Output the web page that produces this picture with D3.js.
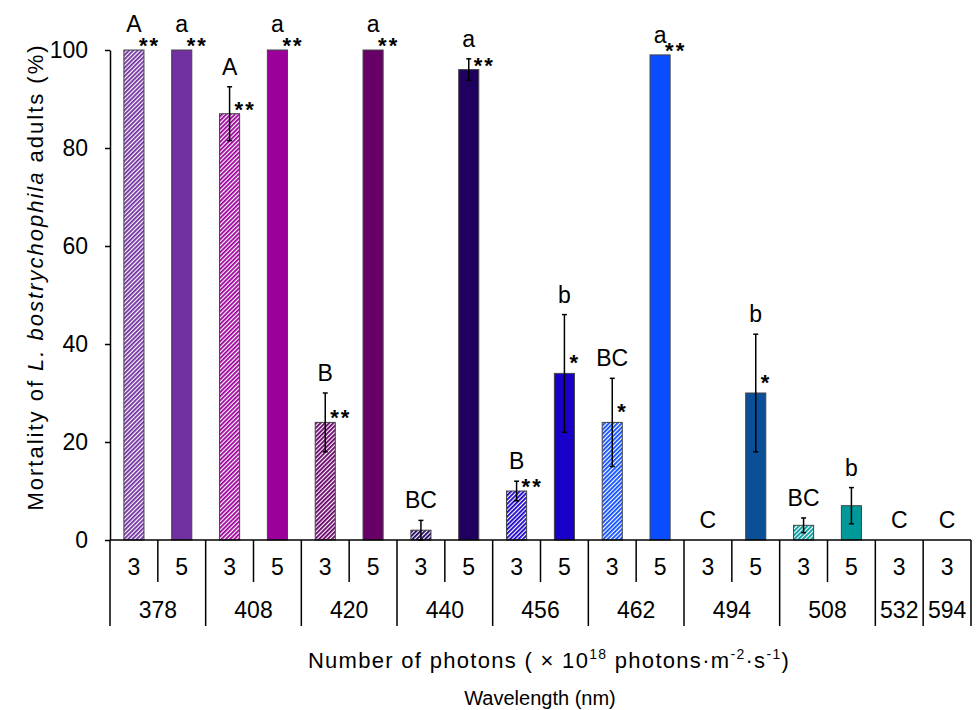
<!DOCTYPE html>
<html>
<head>
<meta charset="utf-8">
<script src="https://cdn.jsdelivr.net/npm/d3@7"></script>
<style>
  body { margin: 0; background: #fff; }
  svg { display: block; font-family: "Liberation Sans", Arial, sans-serif; }
</style>
</head>
<body>
<svg id="chart" width="977" height="710"></svg>
<script>
(function () {
    'use strict';

    // one entry per bar slot, left to right
    const wavelength = ["378", "378", "408", "408", "420", "420", "440", "440", "456", "456",
                        "462", "462", "494", "494", "508", "508", "532", "594"];
    const photons = ["3", "5", "3", "5", "3", "5", "3", "5", "3", "5",
                     "3", "5", "3", "5", "3", "5", "3", "3"];
    const mortality = [100, 100, 87, 100, 24, 100, 2, 96, 10, 34, 24, 99, 0, 30, 3, 7, 0, 0];
    const errors = [0, 0, 5.5, 0, 6, 0, 2, 2.2, 2, 12, 9, 0, 0, 12, 1.5, 3.7, 0, 0];
    const letters = ["A", "a", "A", "a", "B", "a", "BC", "a", "B", "b",
                     "BC", "a", "C", "b", "BC", "b", "C", "C"];
    const stars = ["**", "**", "**", "**", "**", "**", "", "**", "**", "*",
                   "*", "**", "", "*", "", "", "", ""];
    const yTicks = [0, 20, 40, 60, 80, 100];

    const colors = {
        "378": "#7030a0", "408": "#9c009a", "420": "#660066", "440": "#1f0060",
        "456": "#1800c8", "462": "#0a4cff", "494": "#0b4f96", "508": "#009999",
        "532": "#33aa33", "594": "#ff9900"
    };

    const left = 110, right = 971, top = 50, bottom = 540;

    const svg = d3.select("#chart");
    const rows = d3.range(wavelength.length);

    const x = d3.scaleBand()
        .domain(rows)
        .range([left, right])
        .padding(0);
    const barW = x.bandwidth() * 0.42;

    const y = d3.scaleLinear()
        .domain([0, 100])
        .range([bottom, top]);

    // hatch patterns, one per wavelength
    const defs = svg.append("defs");
    Object.keys(colors).forEach(k => {
        const p = defs.append("pattern")
            .attr("id", "hatch" + k)
            .attr("patternUnits", "userSpaceOnUse")
            .attr("width", 3)
            .attr("height", 3)
            .attr("patternTransform", "rotate(45)");
        p.append("rect").attr("width", 3).attr("height", 3).attr("fill", "#fff");
        p.append("rect").attr("width", 1.8).attr("height", 3).attr("fill", colors[k]);
    });

    // bars
    svg.append("g")
        .selectAll("rect")
        .data(rows.filter(i => mortality[i] > 0))
        .join("rect")
        .attr("x", i => x(i) + (x.bandwidth() - barW) / 2)
        .attr("y", i => y(mortality[i]))
        .attr("width", barW)
        .attr("height", i => y(0) - y(mortality[i]))
        .attr("fill", i => photons[i] === "3" ? `url(#hatch${wavelength[i]})` : colors[wavelength[i]])
        .attr("stroke", "#444")
        .attr("stroke-width", 1);

    // error bars
    const eb = svg.append("g")
        .attr("stroke", "#000")
        .attr("stroke-width", 1.5)
        .selectAll("g")
        .data(rows.filter(i => errors[i] > 0))
        .join("g")
        .attr("transform", i => `translate(${x(i) + x.bandwidth() / 2},0)`);
    eb.append("line")
        .attr("y1", i => y(mortality[i] - errors[i]))
        .attr("y2", i => y(mortality[i] + errors[i]));
    eb.append("line")
        .attr("x1", -2.5).attr("x2", 2.5)
        .attr("y1", i => y(mortality[i] + errors[i]))
        .attr("y2", i => y(mortality[i] + errors[i]));
    eb.append("line")
        .attr("x1", -2.5).attr("x2", 2.5)
        .attr("y1", i => y(mortality[i] - errors[i]))
        .attr("y2", i => y(mortality[i] - errors[i]));

    // significance letters
    svg.append("g")
        .attr("text-anchor", "middle")
        .style("font-size", "23px")
        .selectAll("text")
        .data(rows)
        .join("text")
        .attr("x", i => x(i) + x.bandwidth() / 2)
        .attr("y", i => y(mortality[i] + errors[i]) - (mortality[i] >= 100 ? 18 : 12))
        .text(i => letters[i]);

    // asterisks (single ones sit a little higher)
    svg.append("g")
        .style("font-size", "22px")
        .style("font-weight", "bold")
        .style("letter-spacing", "2px")
        .selectAll("text")
        .data(rows.filter(i => stars[i]))
        .join("text")
        .attr("x", i => x(i) + x.bandwidth() / 2 + 5)
        .attr("y", i => y(mortality[i]) + (stars[i].length === 1 ? -3 : 3))
        .text(i => stars[i]);

    // y axis
    const yAxis = svg.append("g")
        .attr("transform", `translate(${left},0)`)
        .call(d3.axisLeft(y).tickValues(yTicks).tickSize(5).tickSizeOuter(0).tickPadding(17));
    yAxis.select(".domain").attr("stroke", "#000").attr("stroke-width", 1.5);
    yAxis.selectAll(".tick line").attr("stroke", "#000").attr("stroke-width", 1.5);
    yAxis.selectAll(".tick text")
        .attr("fill", "#000")
        .style("font-size", "23px")
        .style("font-family", "Liberation Sans, Arial, sans-serif");

    // category table under the plot
    const table = svg.append("g").attr("stroke", "#000").attr("stroke-width", 1.5);
    table.append("line")
        .attr("x1", left).attr("x2", right)
        .attr("y1", bottom).attr("y2", bottom);

    const groups = Array.from(d3.group(rows, i => wavelength[i]), ([k, v]) => ({key: k, first: v[0], last: v[v.length - 1]}));
    // long separators at group edges
    const edges = [left].concat(groups.map(g => x(g.last) + x.bandwidth()));
    table.selectAll(".long")
        .data(edges)
        .join("line")
        .attr("x1", d => d).attr("x2", d => d)
        .attr("y1", bottom).attr("y2", 626);
    // short separators inside groups
    table.selectAll(".short")
        .data(rows.filter(i => i > 0 && wavelength[i] === wavelength[i - 1]))
        .join("line")
        .attr("x1", i => x(i)).attr("x2", i => x(i))
        .attr("y1", bottom).attr("y2", 582);

    svg.append("g")
        .attr("text-anchor", "middle")
        .style("font-size", "23px")
        .selectAll("text")
        .data(rows)
        .join("text")
        .attr("x", i => x(i) + x.bandwidth() / 2)
        .attr("y", 575)
        .text(i => photons[i]);

    svg.append("g")
        .attr("text-anchor", "middle")
        .style("font-size", "23px")
        .selectAll("text")
        .data(groups)
        .join("text")
        .attr("x", g => (x(g.first) + x(g.last) + x.bandwidth()) / 2)
        .attr("y", 618)
        .text(g => g.key);

    // axis titles
    const xt = svg.append("text")
        .attr("x", 549)
        .attr("y", 668)
        .attr("text-anchor", "middle")
        .style("font-size", "22px")
        .style("letter-spacing", "1.3px");
    xt.append("tspan").text("Number of photons ( × 10");
    xt.append("tspan").attr("dy", -9).style("font-size", "14px").text("18");
    xt.append("tspan").attr("dy", 9).text(" photons·m");
    xt.append("tspan").attr("dy", -9).style("font-size", "14px").text("-2");
    xt.append("tspan").attr("dy", 9).text("·s");
    xt.append("tspan").attr("dy", -9).style("font-size", "14px").text("-1");
    xt.append("tspan").attr("dy", 9).text(")");

    svg.append("text")
        .attr("x", 540)
        .attr("y", 705)
        .attr("text-anchor", "middle")
        .style("font-size", "20px")
        .text("Wavelength (nm)");

    const yt = svg.append("text")
        .attr("transform", `translate(43,${(top + bottom) / 2 - 18}) rotate(-90)`)
        .attr("text-anchor", "middle")
        .style("font-size", "22px")
        .style("letter-spacing", "2px");
    yt.append("tspan").text("Mortality of ");
    yt.append("tspan").style("font-style", "italic").text("L. bostrychophila");
    yt.append("tspan").text(" adults (%)");
}());
</script>
</body>
</html>
